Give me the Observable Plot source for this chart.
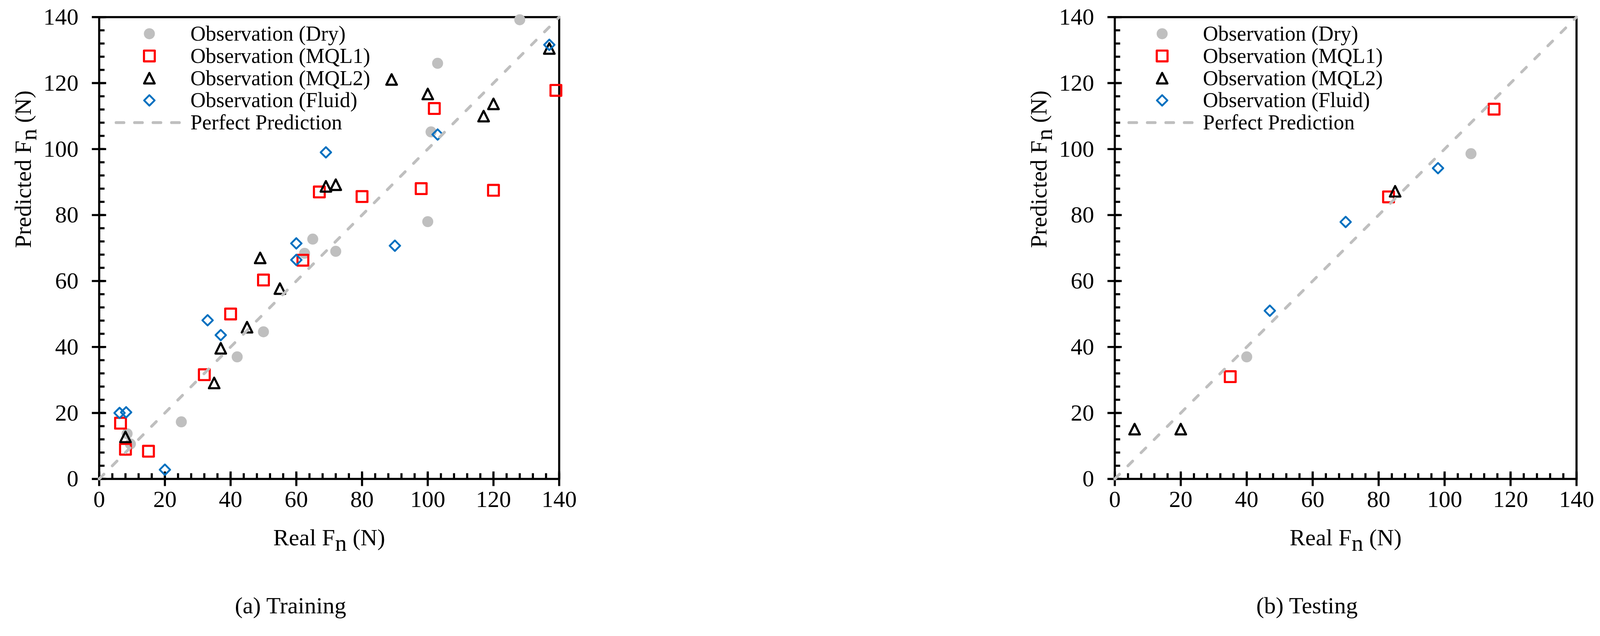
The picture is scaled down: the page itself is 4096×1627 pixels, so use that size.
<!DOCTYPE html>
<html>
<head>
<meta charset="utf-8">
<script src="https://cdn.jsdelivr.net/npm/d3@7"></script>
<script src="https://cdn.jsdelivr.net/npm/@observablehq/plot@0.6"></script>
<style>
html, body { margin: 0; padding: 0; background: #fff; }
#fig { position: relative; width: 4096px; height: 1627px; overflow: hidden; background: #fff; }
#fig > div { position: absolute; top: 0; width: 2048px; height: 1627px; }
#left { left: 0; }
#right { left: 2048px; }
svg { max-width: none !important; }
</style>
</head>
<body>
<div id="fig"><div id="left"></div><div id="right"></div></div>
<script>
// ---------------- data ----------------
const seriesNames = ["Observation (Dry)", "Observation (MQL1)", "Observation (MQL2)", "Observation (Fluid)"];
const lineName = "Perfect Prediction";
const axisTicks = [0, 20, 40, 60, 80, 100, 120, 140];
const minorStep = 4;
const xTitle = "Real Fn (N)";
const yTitle = "Predicted Fn (N)";
const captions = ["(a) Training", "(b) Testing"];

// Training
const trainDryReal   = [128, 103, 101, 100, 65, 72, 62.5, 50, 42, 25, 8.5, 9.5];
const trainDryPred   = [139.2, 126, 105.2, 78, 72.7, 69, 68.4, 44.6, 37, 17.3, 13.7, 10.6];
const trainMQL1Real  = [139, 102, 67, 80, 98, 120, 62, 50, 40, 32, 6.5, 8, 15];
const trainMQL1Pred  = [117.8, 112.3, 87, 85.6, 88, 87.5, 66.3, 60.3, 50, 31.6, 16.9, 9, 8.4];
const trainMQL2Real  = [137, 89, 100, 120, 117, 69, 72, 49, 55, 45, 37, 35, 8];
const trainMQL2Pred  = [130.5, 121.1, 116.7, 113.7, 110, 88.7, 89.2, 67, 57.7, 46, 39.6, 29.1, 12.75];
const trainFluidReal = [137, 103, 69, 60, 90, 60, 33, 37, 6.2, 8.2, 20];
const trainFluidPred = [131.6, 104.4, 99, 71.4, 70.7, 66.4, 48.1, 43.6, 20, 20.2, 2.8];

// Testing
const testDryReal   = [108, 40];
const testDryPred   = [98.6, 37];
const testMQL1Real  = [115, 83, 35];
const testMQL1Pred  = [112.1, 85.5, 31];
const testMQL2Real  = [85, 6, 20];
const testMQL2Pred  = [87.2, 15.1, 15.1];
const testFluidReal = [98, 70, 47];
const testFluidPred = [94.2, 77.9, 51];

// ---------------- helpers ----------------
const rows = (xs, ys) => xs.map((x, i) => ({real: x, pred: ys[i]}));
const trainSets = [rows(trainDryReal, trainDryPred), rows(trainMQL1Real, trainMQL1Pred),
                   rows(trainMQL2Real, trainMQL2Pred), rows(trainFluidReal, trainFluidPred)];
const testSets  = [rows(testDryReal, testDryPred), rows(testMQL1Real, testMQL1Pred),
                   rows(testMQL2Real, testMQL2Pred), rows(testFluidReal, testFluidPred)];
const domain = d3.extent(axisTicks);
const minorTicks = d3.range(domain[0], domain[1] + 1e-9, minorStep);
const diag = domain.map(v => ({real: v, pred: v}));

const rad = size => Math.sqrt(size / Math.PI);
const symSquare = {draw(c, size) { const r = rad(size); c.moveTo(-r, -r); c.lineTo(r, -r); c.lineTo(r, r); c.lineTo(-r, r); c.closePath(); }};
const symTriangle = {draw(c, size) { const r = rad(size); c.moveTo(0, -r); c.lineTo(r, r); c.lineTo(-r, r); c.closePath(); }};
const symDiamond = {draw(c, size) { const r = rad(size); c.moveTo(0, -r); c.lineTo(r, 0); c.lineTo(0, r); c.lineTo(-r, 0); c.closePath(); }};
const symDash = {draw(c, size) { const r = rad(size); c.moveTo(-r, 0); c.lineTo(r, 0); }};

const GRAY = "#BFBFBF";
const styles = [
  {symbol: "circle", r: 14.1, fill: GRAY, stroke: "none"},
  {symbol: symSquare, r: 13.8, fill: "none", stroke: "#FF0000", strokeWidth: 5.4, strokeLinejoin: "round"},
  {symbol: symTriangle, r: 13.5, fill: "none", stroke: "#000000", strokeWidth: 5.4, strokeLinejoin: "round"},
  {symbol: symDiamond, r: 13.4, fill: "none", stroke: "#0070C0", strokeWidth: 4.7, strokeLinejoin: "round"}
];

const H = 1627;
const FONT = "'Liberation Serif', 'Times New Roman', Times, serif";

function panel(sets, caption, L) {
  const innerW = L.width - L.marginLeft - L.marginRight;
  const innerH = H - L.marginTop - L.marginBottom;
  const axisStyle = {stroke: "black", strokeWidth: 5.4};
  const marks = [
    Plot.tickX(minorTicks, {x: d => d, insetTop: innerH - 14.2, ...axisStyle}),
    Plot.tickX(axisTicks, {x: d => d, insetTop: innerH - 18.7, insetBottom: -18.7, ...axisStyle}),
    Plot.tickY(minorTicks, {y: d => d, insetRight: innerW - 14.2, ...axisStyle}),
    Plot.tickY(axisTicks, {y: d => d, insetRight: innerW - 18.3, insetLeft: -18.3, ...axisStyle}),
    Plot.frame({stroke: "black", strokeWidth: 5.4}),
    Plot.text(axisTicks, {x: d => d, text: d => String(d), frameAnchor: "bottom", dy: 71.5, fontSize: 60}),
    Plot.text(axisTicks, {y: d => d, text: d => String(d), frameAnchor: "left", dx: -53, textAnchor: "end", fontSize: 60}),
    Plot.text([xTitle], {frameAnchor: "bottom", dy: 169.5, lineAnchor: "bottom", fontSize: 60}),
    Plot.text([yTitle], {frameAnchor: "left", dx: -174.6, rotate: -90, lineAnchor: "bottom", fontSize: 60}),
    Plot.text([caption], {frameAnchor: "bottom", dx: -99, dy: 343.8, lineAnchor: "bottom", fontSize: 60})
  ];
  sets.forEach((data, i) => marks.push(Plot.dot(data, {x: "real", y: "pred", ...styles[i]})));
  marks.push(Plot.line(diag, {x: "real", y: "pred", stroke: GRAY, strokeWidth: 7.3,
                              strokeDasharray: "17,30.5", strokeLinecap: "round"}));
  // legend
  const rowY = i => 42.5 + 56.85 * i;
  seriesNames.forEach((name, i) => {
    marks.push(Plot.dot([name], {frameAnchor: "top-left", dx: L.legMarker, dy: rowY(i), ...styles[i]}));
    marks.push(Plot.text([name], {frameAnchor: "top-left", dx: L.legText, dy: rowY(i) + 17.5,
                                  textAnchor: "start", lineAnchor: "bottom", fontSize: 54}));
  });
  marks.push(Plot.dot([lineName], {frameAnchor: "top-left", dx: L.legMarker - 4.2, dy: rowY(4), symbol: symDash, r: 81,
                                   fill: "none", stroke: GRAY, strokeWidth: 7.3, strokeDasharray: "20,27.3", strokeLinecap: "round"}));
  marks.push(Plot.text([lineName], {frameAnchor: "top-left", dx: L.legText, dy: rowY(4) + 17.5,
                                    textAnchor: "start", lineAnchor: "bottom", fontSize: 54}));

  const svg = Plot.plot({
    width: L.width, height: H,
    marginLeft: L.marginLeft, marginRight: L.marginRight, marginTop: L.marginTop, marginBottom: L.marginBottom,
    x: {domain, axis: null},
    y: {domain, axis: null},
    style: {fontFamily: FONT, background: "transparent", overflow: "visible", color: "black"},
    marks
  });
  // subscript n in the axis titles
  d3.select(svg).selectAll("text").each(function () {
    const m = (this.textContent || "").match(/^(.*F)n( \(N\))$/);
    if (m && this.childElementCount === 0) {
      this.textContent = "";
      const s = d3.select(this);
      s.append("tspan").text(m[1]);
      s.append("tspan").attr("dy", "0.23em").text("n");
      s.append("tspan").attr("dy", "-0.23em").text(m[2]);
    }
  });
  return svg;
}

document.getElementById("left").appendChild(panel(trainSets, captions[0], {
  width: 2048, marginLeft: 253.4, marginRight: 617, marginTop: 43.3, marginBottom: 402.3,
  legMarker: 128.5, legText: 233.5
}));
document.getElementById("right").appendChild(panel(testSets, captions[1], {
  width: 2048, marginLeft: 805.4, marginRight: 60.6, marginTop: 43.3, marginBottom: 402.3,
  legMarker: 121.2, legText: 225.7
}));
</script>
</body>
</html>
